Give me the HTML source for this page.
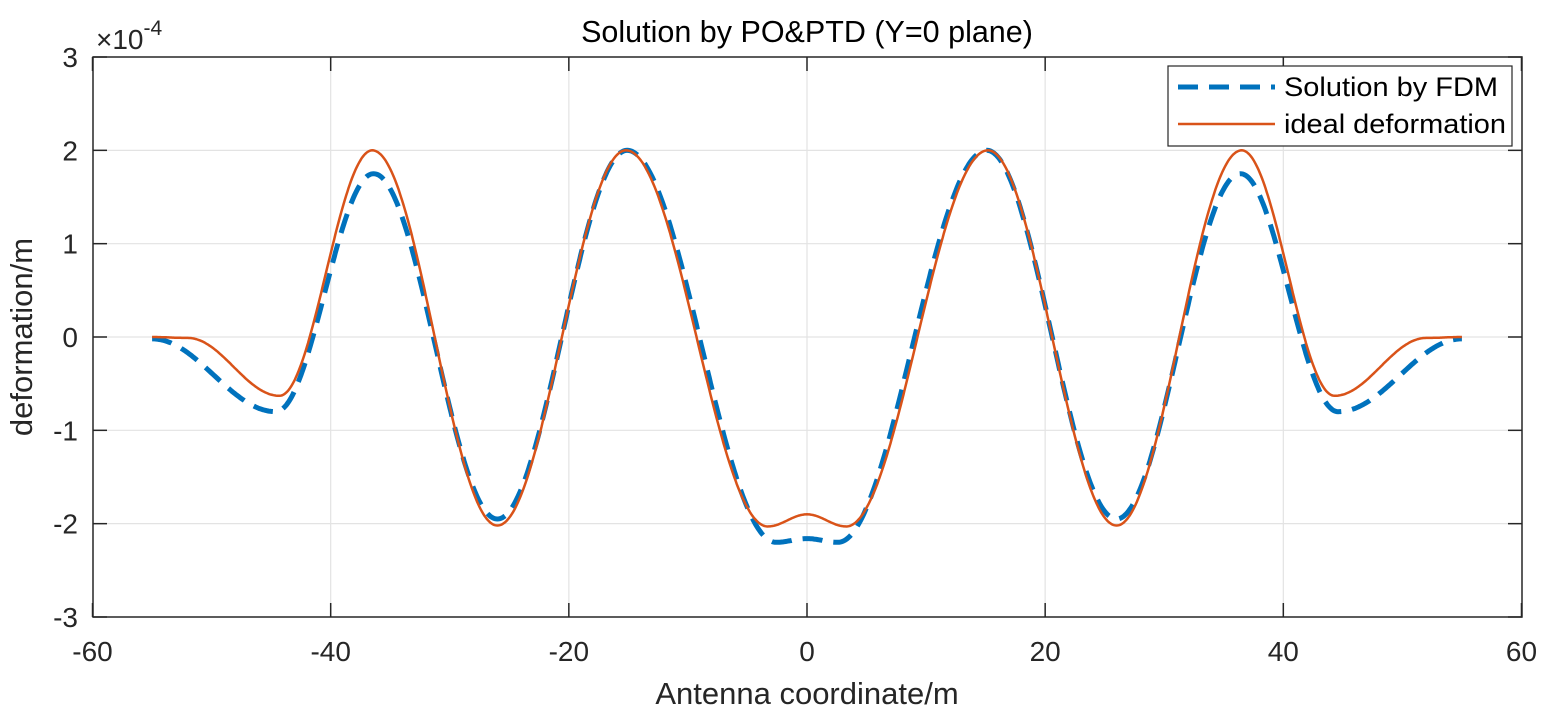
<!DOCTYPE html>
<html><head><meta charset="utf-8"><style>
body{margin:0;background:#fff}
svg{display:block;font-family:"Liberation Sans",Arial,sans-serif}
</style></head><body>
<svg id="s" width="1542" height="719" viewBox="0 0 1542 719" xmlns="http://www.w3.org/2000/svg">
<rect width="1542" height="719" fill="#fff"/>
<g id="grid" stroke="#e3e3e3" stroke-width="1.2"></g>
<path id="fdm" fill="none" stroke="#0072BD" stroke-width="5" stroke-dasharray="20,11"/>
<path id="ideal" fill="none" stroke="#D95319" stroke-width="2.5"/>
<rect x="93" y="57" width="1429" height="560" fill="none" stroke="#262626" stroke-width="1.5"/>
<g id="ticks" stroke="#262626" stroke-width="1.5"></g>
<g id="labels" font-size="28" fill="#262626"></g>
<text x="807" y="42" font-size="30.5" text-anchor="middle" fill="#000">Solution by PO&amp;PTD (Y=0 plane)</text>
<text x="807" y="704" font-size="31" text-anchor="middle" fill="#262626">Antenna coordinate/m</text>
<text transform="translate(32,337) rotate(-90)" font-size="31" text-anchor="middle" fill="#262626">deformation/m</text>
<text x="96" y="49" font-size="28" fill="#262626">×10<tspan dy="-14" font-size="21">-4</tspan></text>
<rect x="1168" y="66" width="344" height="80" fill="#fff" stroke="#262626" stroke-width="1.2"/>
<line x1="1178" y1="87" x2="1275" y2="87" stroke="#0072BD" stroke-width="5" stroke-dasharray="20,11"/>
<line x1="1178" y1="124" x2="1275" y2="124" stroke="#D95319" stroke-width="2.5"/>
<text x="1284" y="96" font-size="27" fill="#000" textLength="214" lengthAdjust="spacingAndGlyphs">Solution by FDM</text>
<text x="1284" y="133" font-size="27" fill="#000" textLength="222" lengthAdjust="spacingAndGlyphs">ideal deformation</text>
</svg>
<script>
var X=function(v){return 807+v*11.908},Y=function(v){return 337-v*93.33};
var g=document.getElementById('grid'),t=document.getElementById('ticks'),l=document.getElementById('labels'),ns='http://www.w3.org/2000/svg';
function el(p,n,a,tx){var e=document.createElementNS(ns,n);for(var k in a)e.setAttribute(k,a[k]);if(tx!==undefined)e.textContent=tx;p.appendChild(e);}
for(var v=-60;v<=60;v+=20){var x=X(v);if(v>-60&&v<60)el(g,'line',{x1:x,x2:x,y1:57,y2:617});el(t,'line',{x1:x,x2:x,y1:617,y2:603});el(t,'line',{x1:x,x2:x,y1:57,y2:71});el(l,'text',{x:x,y:661,'text-anchor':'middle'},v);}
for(var v=-3;v<=3;v++){var y=Y(v);if(v>-3&&v<3)el(g,'line',{x1:93,x2:1522,y1:y,y2:y});el(t,'line',{x1:93,x2:107,y1:y,y2:y});el(t,'line',{x1:1522,x2:1508,y1:y,y2:y});el(l,'text',{x:78,y:y+10,'text-anchor':'end'},v);}
function curve(pts){
 var full=[];for(var i=pts.length-1;i>0;i--)full.push([-pts[i][0],pts[i][1]]);full=full.concat(pts);
 var d='';
 for(var x=-55;x<=55.001;x+=0.1){
  var j=0;while(j<full.length-2&&x>full[j+1][0])j++;
  var a=full[j],b=full[j+1],tt=(x-a[0])/(b[0]-a[0]);tt=Math.max(0,Math.min(1,tt));
  var v=a[1]+(b[1]-a[1])*(1-Math.cos(Math.PI*tt))/2;
  d+=(d?'L':'M')+X(x).toFixed(1)+','+Y(v).toFixed(1);
 }return d;}
document.getElementById('ideal').setAttribute('d',curve([[0,-1.9],[3.3,-2.03],[15.2,2.0],[26,-2.02],[36.5,2.0],[44.3,-0.63],[52,-0.01],[55,0]]));
document.getElementById('fdm').setAttribute('d',curve([[0,-2.16],[2.6,-2.2],[15.1,2.0],[26,-1.95],[36.4,1.75],[44.6,-0.8],[55,-0.02]]));
</script>
</body></html>
